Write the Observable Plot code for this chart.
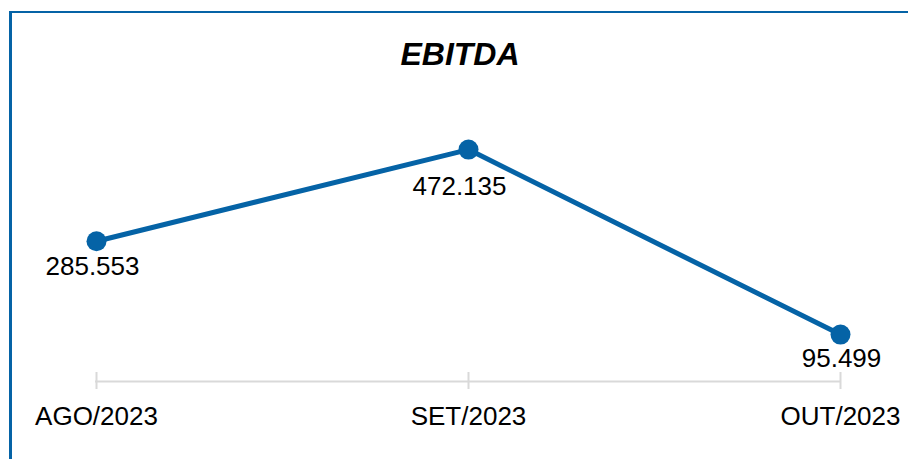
<!DOCTYPE html>
<html>
<head>
<meta charset="utf-8">
<script src="https://cdn.jsdelivr.net/npm/d3@7"></script>
<script src="https://cdn.jsdelivr.net/npm/@observablehq/plot@0.6"></script>
<style>
  html, body { margin: 0; padding: 0; background: #fff; overflow: hidden; }
  #frame {
    position: absolute; left: 9px; top: 11px;
    width: 920px; height: 470px;
    border-left: 3px solid #0563a6; border-top: 2px solid #0563a6;
    box-sizing: content-box;
  }
  #title {
    height: 82px; line-height: 82px; width: 896px; text-align: center;
    font-family: "Liberation Sans", Arial, sans-serif; font-weight: bold; font-style: italic;
    font-size: 32px; color: #000;
  }
</style>
</head>
<body>
<div id="frame">
  <div id="title">EBITDA</div>
  <div id="chart"></div>
</div>
<script>
const months = ["AGO/2023", "SET/2023", "OUT/2023"];
const ebitda = [285553, 472135, 95499];

const data = months.map((m, i) => ({month: m, value: ebitda[i]}));
const fmt = d3.formatLocale({decimal: ",", thousands: ".", grouping: [3], currency: ["R$", ""]}).format(",d");
const blue = "#0563a6";
const grey = "#d9d9d9";

const label = (idx, dx, dy) => Plot.text(data, {
  filter: (d, i) => i === idx,
  x: "month", y: "value", text: d => fmt(d.value),
  dx, dy, fill: "#000", fontSize: 26
});

const chart = Plot.plot({
  width: 896, height: 364,
  marginLeft: 83, marginRight: 68, marginTop: 40.4, marginBottom: 78,
  x: {type: "point", domain: months, padding: 0, tickSize: 0, tickPadding: 25, label: null},
  y: {domain: [0, 500000], axis: null},
  style: {fontFamily: "Liberation Sans, Arial, sans-serif", fontSize: "26px", color: "#000", background: "transparent", overflow: "visible"},
  marks: [
    Plot.ruleY([0], {stroke: grey, strokeWidth: 2}),
    Plot.ruleX(months, {x: d => d, y1: 0, y2: 0, insetTop: -9, insetBottom: -8, stroke: grey, strokeWidth: 2}),
    Plot.line(data, {x: "month", y: "value", stroke: blue, strokeWidth: 5}),
    Plot.dot(data, {x: "month", y: "value", r: 10, fill: blue, stroke: "none"}),
    label(0, -4, 25),
    label(1, -9, 37),
    label(2, 1, 24)
  ]
});
document.getElementById("chart").appendChild(chart);
</script>
</body>
</html>
